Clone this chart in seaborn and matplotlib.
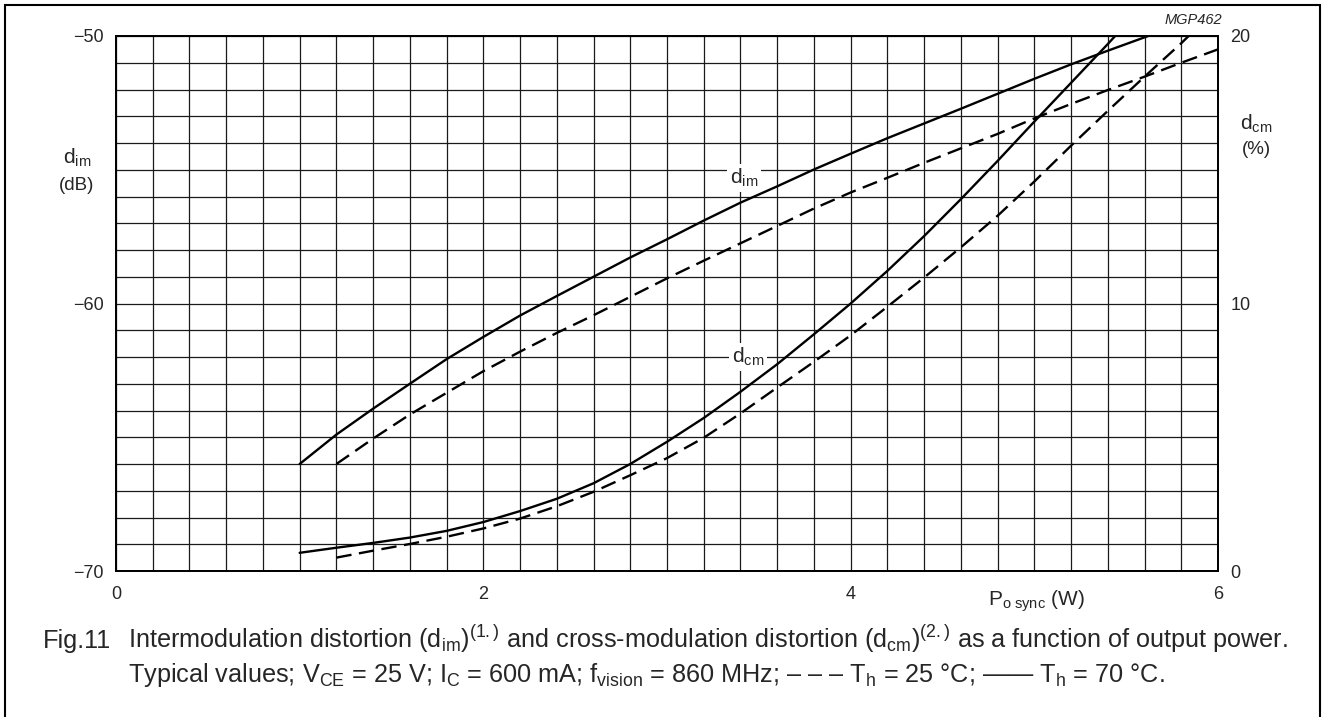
import matplotlib
matplotlib.use('Agg')
import matplotlib.pyplot as plt
import seaborn as sns
import pandas as pd
from matplotlib.ticker import MultipleLocator
from matplotlib.patches import Rectangle

# output power (W) and d_im (dB), Th = 70 C (solid)
p_im_70 = [1.0, 1.2, 1.4, 1.6, 1.8, 2.0, 2.2, 2.4, 2.6, 2.8, 3.0, 3.2, 3.4, 3.6,
           3.8, 4.0, 4.2, 4.4, 4.6, 4.8, 5.0, 5.2, 5.4, 5.62]
dim_70 = [-66.0, -64.9, -63.93, -63.0, -62.08, -61.25, -60.45, -59.72, -59.0, -58.28,
          -57.6, -56.9, -56.23, -55.62, -54.99, -54.4, -53.82, -53.27, -52.72, -52.16,
          -51.6, -51.06, -50.55, -50.0]

# d_im (dB), Th = 25 C (dashed)
p_im_25 = [1.2, 1.4, 1.6, 1.8, 2.0, 2.2, 2.4, 2.6, 2.8, 3.0, 3.2, 3.4, 3.6, 3.8,
           4.0, 4.2, 4.4, 4.6, 4.8, 5.0, 5.2, 5.4, 5.6, 5.8, 6.0]
dim_25 = [-66.0, -65.05, -64.15, -63.34, -62.53, -61.8, -61.1, -60.44, -59.75, -59.06,
          -58.4, -57.75, -57.1, -56.45, -55.85, -55.3, -54.74, -54.2, -53.66, -53.08,
          -52.54, -52.02, -51.52, -51.0, -50.5]

# d_cm (%), Th = 70 C (solid)
p_cm_70 = [1.0, 1.2, 1.4, 1.6, 1.8, 2.0, 2.2, 2.4, 2.6, 2.8, 3.0, 3.2, 3.4, 3.6,
           3.8, 4.0, 4.2, 4.4, 4.6, 4.8, 5.0, 5.2, 5.4, 5.44]
dcm_70 = [0.68, 0.87, 1.05, 1.25, 1.5, 1.83, 2.24, 2.7, 3.28, 4.0, 4.83, 5.72, 6.7,
          7.73, 8.85, 10.0, 11.22, 12.52, 13.9, 15.33, 16.8, 18.25, 19.7, 20.0]

# d_cm (%), Th = 25 C (dashed)
p_cm_25 = [1.2, 1.4, 1.6, 1.8, 2.0, 2.2, 2.4, 2.6, 2.8, 3.0, 3.2, 3.4, 3.6, 3.8,
           4.0, 4.2, 4.4, 4.6, 4.8, 5.0, 5.2, 5.4, 5.6, 5.8, 5.84]
dcm_25 = [0.5, 0.76, 1.01, 1.28, 1.59, 1.96, 2.42, 2.96, 3.58, 4.22, 4.98, 5.89, 6.86,
          7.82, 8.81, 9.88, 10.97, 12.1, 13.28, 14.56, 15.9, 17.2, 18.48, 19.73, 20.0]

sns.set_style('white')
plt.rcParams['font.family'] = ['Liberation Sans', 'DejaVu Sans']
plt.rcParams['mathtext.fontset'] = 'custom'
plt.rcParams['mathtext.rm'] = 'Liberation Sans'
plt.rcParams['mathtext.it'] = 'Liberation Sans:italic'

W, H = 1327, 717
fig = plt.figure(figsize=(W / 100, H / 100), dpi=100)
ax = fig.add_axes([116 / W, 1 - 571 / H, (1218 - 116) / W, (571 - 36) / H])
ax2 = ax.twinx()

dash = (0, (6.5, 3.2))
lw = 1.7
sns.lineplot(x=p_im_70, y=dim_70, ax=ax, color='black', lw=lw, sort=False)
sns.lineplot(x=p_im_25, y=dim_25, ax=ax, color='black', lw=lw, sort=False, linestyle=dash)
sns.lineplot(x=p_cm_70, y=dcm_70, ax=ax2, color='black', lw=lw, sort=False)
sns.lineplot(x=p_cm_25, y=dcm_25, ax=ax2, color='black', lw=lw, sort=False, linestyle=dash)

ax.set_xlim(0, 6)
ax.set_ylim(-70, -50)
ax2.set_ylim(0, 20)
ax.set_xticks([0, 2, 4, 6])
ax.set_yticks([-70, -60, -50])
ax.set_yticklabels(['\u221270', '\u221260', '\u221250'])
ax2.set_yticks([0, 10, 20])
ax.xaxis.set_minor_locator(MultipleLocator(0.2))
ax.yaxis.set_minor_locator(MultipleLocator(1))
ax.set_axisbelow(True)
ax.grid(which='both', color='#1a1a1a', lw=0.9)
ax.tick_params(which='both', length=0, labelsize=13)
ax.tick_params(axis='x', pad=11)
ax.tick_params(axis='y', pad=9)
ax2.tick_params(length=0, labelsize=13, pad=9)
ax.set_xlabel('')
ax.set_ylabel('')
ax2.set_ylabel('')
for a in (ax, ax2):
    for s in a.spines.values():
        s.set_color('black')
        s.set_linewidth(1.3)

box = dict(facecolor='white', edgecolor='none', pad=2)
ax.text(3.42, -55.3, r'd$_\mathregular{im}$', ha='center', va='center', fontsize=15, bbox=box)
ax.text(3.44, -62.0, r'd$_\mathregular{cm}$', ha='center', va='center', fontsize=15, bbox=box)

def fx(px):
    return px / W

def fy(py):
    return 1 - py / H

fig.text(fx(77), fy(158), r'd$_\mathregular{im}$', ha='center', va='center', fontsize=15)
fig.text(fx(77), fy(186), '(dB)', ha='center', va='center', fontsize=13.5)
fig.text(fx(1256), fy(124), r'd$_\mathregular{cm}$', ha='center', va='center', fontsize=15)
fig.text(fx(1256), fy(150), '(%)', ha='center', va='center', fontsize=13.5)
fig.text(fx(1222), fy(20), 'MGP462', ha='right', va='center', fontsize=10.5, style='italic')
fig.text(fx(1036), fy(601), r'P$_\mathregular{o\ sync}$ (W)', ha='center', va='center', fontsize=15)

fs = 18.2
fig.text(fx(43), fy(648), 'Fig.11', ha='left', va='baseline', fontsize=fs)
fig.text(fx(128), fy(648),
         r'Intermodulation distortion (d$_\mathregular{im}$)$^\mathregular{(1.)}$ and '
         r'cross-modulation distortion (d$_\mathregular{cm}$)$^\mathregular{(2.)}$ '
         'as a function of output power.',
         ha='left', va='baseline', fontsize=fs)
fig.text(fx(128), fy(682),
         r'Typical values; V$_\mathregular{CE}$ = 25 V; I$_\mathregular{C}$ = 600 mA; '
         r'f$_\mathregular{vision}$ = 860 MHz; – – – T$_\mathregular{h}$ = 25 °C; '
         r'—— T$_\mathregular{h}$ = 70 °C.',
         ha='left', va='baseline', fontsize=fs)

fig.add_artist(Rectangle((5 / W, -0.01), (1320 - 5) / W, 1 - 5 / H + 0.01,
                         transform=fig.transFigure, fill=False, ec='black', lw=1.5))

fig.savefig('out.png', dpi=100)
